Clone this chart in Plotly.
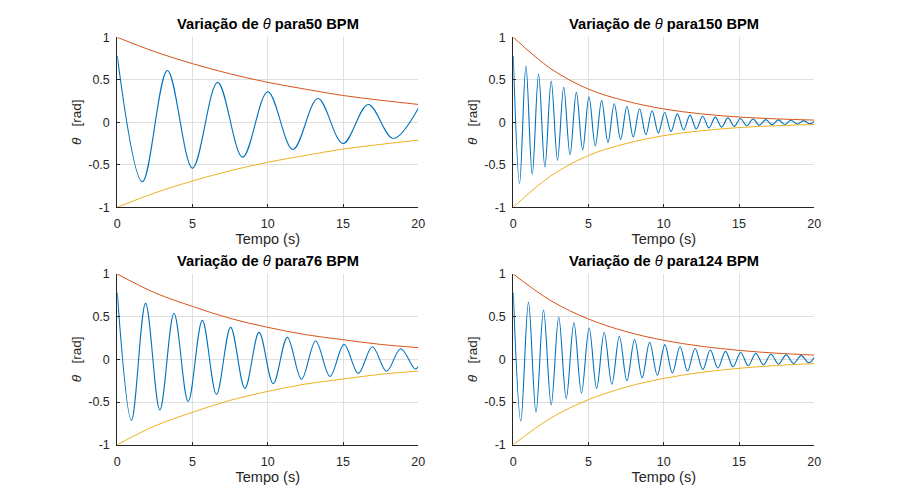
import plotly.graph_objects as go
from plotly.subplots import make_subplots

bpm = ["50", "150", "76", "124"]

# tempos (s) dos maximos/minimos de theta e valores
t_50 = [0, 1.67, 3.33, 5.0, 6.67, 8.33, 10.0, 11.67, 13.33, 15.0, 16.67, 18.33, 20.0]
th_50 = [0.78, -0.70, 0.61, -0.54, 0.47, -0.41, 0.36, -0.32, 0.28, -0.25, 0.21, -0.19, 0.165]

t_150 = [0, 0.42, 0.84, 1.26, 1.68, 2.10, 2.52, 2.94, 3.35, 3.77, 4.19, 4.61, 5.03,
         5.45, 5.87, 6.29, 6.71, 7.13, 7.55, 7.97, 8.39, 8.81, 9.22, 9.64, 10.06,
         10.48, 10.90, 11.32, 11.74, 12.16, 12.58, 13.00, 13.42, 13.84, 14.26, 14.68,
         15.09, 15.51, 15.93, 16.35, 16.77, 17.19, 17.61, 18.03, 18.45, 18.87, 19.29,
         19.71, 20.0]
th_150 = [0.78, -0.72, 0.665, -0.614, 0.567, -0.524, 0.484, -0.447, 0.413, -0.381,
          0.352, -0.325, 0.300, -0.277, 0.256, -0.236, 0.218, -0.202, 0.186, -0.172,
          0.159, -0.147, 0.135, -0.125, 0.116, -0.107, 0.099, -0.091, 0.084, -0.078,
          0.072, -0.066, 0.061, -0.057, 0.052, -0.048, 0.045, -0.041, 0.038, -0.035,
          0.032, -0.030, 0.028, -0.026, 0.024, -0.022, 0.020, -0.019, 0.010]

t_76 = [0, 0.94, 1.88, 2.83, 3.77, 4.71, 5.65, 6.59, 7.53, 8.48, 9.42, 10.36, 11.30,
        12.24, 13.18, 14.13, 15.07, 16.01, 16.95, 17.89, 18.83, 19.78, 20.0]
th_76 = [0.78, -0.715, 0.656, -0.594, 0.54, -0.496, 0.457, -0.41, 0.375, -0.34, 0.316,
         -0.285, 0.258, -0.234, 0.215, -0.20, 0.176, -0.164, 0.148, -0.14, 0.125,
         -0.113, -0.085]

t_124 = [0, 0.50, 1.01, 1.51, 2.01, 2.52, 3.02, 3.52, 4.03, 4.53, 5.04, 5.54, 6.04,
         6.55, 7.05, 7.55, 8.06, 8.56, 9.06, 9.57, 10.07, 10.57, 11.08, 11.58, 12.08,
         12.59, 13.09, 13.59, 14.10, 14.60, 15.11, 15.61, 16.11, 16.62, 17.12, 17.62,
         18.13, 18.63, 19.13, 19.64, 20.0]
th_124 = [0.78, -0.723, 0.671, -0.622, 0.577, -0.535, 0.496, -0.460, 0.427, -0.396,
          0.367, -0.340, 0.315, -0.292, 0.271, -0.251, 0.233, -0.216, 0.200, -0.186,
          0.172, -0.160, 0.148, -0.137, 0.127, -0.118, 0.110, -0.102, 0.094, -0.087,
          0.081, -0.075, 0.070, -0.065, 0.060, -0.056, 0.052, -0.048, 0.044, -0.041,
          0.025]

# envoltorias (curva superior; a inferior e simetrica)
t_env = [0, 2.5, 5, 7.5, 10, 12.5, 15, 17.5, 20]
env_50 = [1.0, 0.83, 0.69, 0.57, 0.47, 0.39, 0.315, 0.26, 0.21]
env_150 = [1.0, 0.63, 0.39, 0.25, 0.157, 0.099, 0.062, 0.04, 0.026]
env_76 = [1.0, 0.78, 0.62, 0.48, 0.375, 0.29, 0.23, 0.175, 0.137]
env_124 = [1.0, 0.687, 0.472, 0.325, 0.223, 0.153, 0.105, 0.072, 0.05]

panels = [(t_50, th_50, env_50), (t_150, th_150, env_150),
          (t_76, th_76, env_76), (t_124, th_124, env_124)]

blue, red, yellow = "#0072BD", "#D95319", "#EDB120"
ink = "#262626"
font = "Liberation Sans, Arial, Helvetica, sans-serif"

fig = make_subplots(rows=2, cols=2)

for i, (t, th, env) in enumerate(panels):
    r, c = i // 2 + 1, i % 2 + 1
    fig.add_trace(go.Scatter(x=t, y=th, mode="lines", line=dict(color=blue, width=1.1, shape="spline")), r, c)
    fig.add_trace(go.Scatter(x=t_env, y=env, mode="lines", line=dict(color=red, width=1, shape="spline")), r, c)
    fig.add_trace(go.Scatter(x=t_env, y=[-v for v in env], mode="lines",
                             line=dict(color=yellow, width=1, shape="spline")), r, c)

xdom = [[0.1303, 0.4648], [0.5703, 0.9048]]
ydom = [[0.5854, 0.9254], [0.1106, 0.452]]

for i in range(4):
    r, c = i // 2 + 1, i % 2 + 1
    fig.update_xaxes(domain=xdom[c - 1], range=[0, 20], tickvals=[0, 5, 10, 15, 20],
                     title=dict(text="Tempo (s)", standoff=3, font=dict(size=14.5, color=ink)),
                     row=r, col=c)
    fig.update_yaxes(domain=ydom[r - 1], range=[-1, 1], tickvals=[-1, -0.5, 0, 0.5, 1],
                     ticktext=["-1", "-0.5", "0", "0.5", "1"],
                     title=dict(text="<i>θ</i>\u00a0\u00a0\u00a0[rad]", standoff=3,
                                font=dict(size=13.5, color=ink)),
                     row=r, col=c)
    fig.add_annotation(
        x=(xdom[c - 1][0] + xdom[c - 1][1]) / 2, y=ydom[r - 1][1],
        xref="paper", yref="paper", xanchor="center", yanchor="bottom", yshift=3,
        showarrow=False,
        text="<b>Variação de </b><i>θ</i><b> para" + bpm[i] + " BPM</b>",
        font=dict(size=14.7, color="black", family=font),
    )

fig.update_xaxes(showgrid=True, gridcolor="#dfdfdf", gridwidth=1, zeroline=False,
                 showline=True, linecolor=ink, linewidth=1, ticks="inside", ticklen=3,
                 tickcolor=ink, tickfont=dict(size=12.5, color=ink), ticklabelstandoff=5,
                 automargin=False)
fig.update_yaxes(showgrid=True, gridcolor="#dfdfdf", gridwidth=1, zeroline=False,
                 showline=True, linecolor=ink, linewidth=1, ticks="inside", ticklen=3,
                 tickcolor=ink, tickfont=dict(size=12.5, color=ink), ticklabelstandoff=4,
                 automargin=False)

fig.update_layout(width=900, height=500, showlegend=False,
                  margin=dict(l=0, r=0, t=0, b=0),
                  paper_bgcolor="white", plot_bgcolor="white",
                  font=dict(family=font, color=ink))

# sem margem da pagina, para a figura ocupar a janela inteira
fig.write_html("out.html", post_script="document.body.style.margin='0';",
               config={"displayModeBar": False})
